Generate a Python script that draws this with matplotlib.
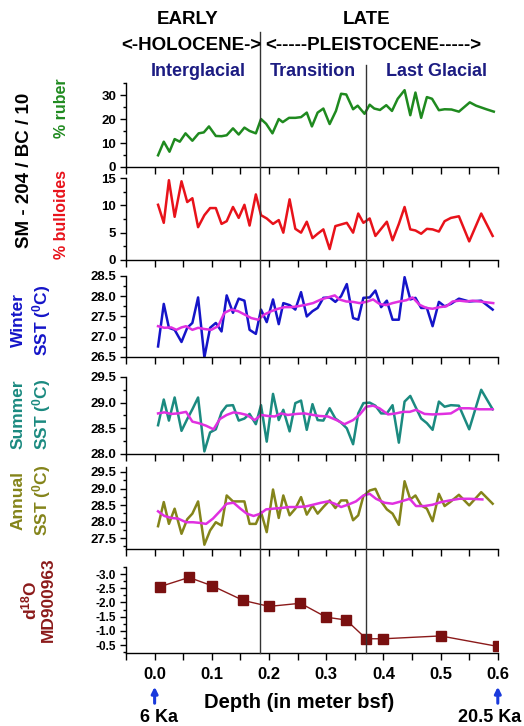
import matplotlib
matplotlib.use('Agg')
import matplotlib.pyplot as plt
from matplotlib.lines import Line2D
from matplotlib.ticker import MultipleLocator, FormatStrFormatter

plt.rcParams['font.family'] = ['Liberation Sans', 'DejaVu Sans']
plt.rcParams['font.weight'] = 'bold'
plt.rcParams['axes.labelweight'] = 'bold'
plt.rcParams['mathtext.fontset'] = 'custom'
plt.rcParams['mathtext.rm'] = 'Liberation Sans:bold'
plt.rcParams['mathtext.bf'] = 'Liberation Sans:bold'
plt.rcParams['mathtext.default'] = 'rm'

# 1. Data
depth_ruber = [0.006, 0.016, 0.026, 0.035, 0.044, 0.054, 0.066, 0.077, 0.086, 0.095,
               0.107, 0.117, 0.126, 0.137, 0.147, 0.157, 0.166, 0.177, 0.186, 0.195,
               0.206, 0.217, 0.224, 0.235, 0.246, 0.256, 0.266, 0.275, 0.285, 0.295,
               0.306, 0.317, 0.326, 0.335, 0.347, 0.355, 0.367, 0.376, 0.384, 0.394,
               0.405, 0.415, 0.425, 0.437, 0.447, 0.456, 0.466, 0.476, 0.485, 0.497,
               0.507, 0.519, 0.532, 0.551, 0.562, 0.580, 0.593]
ruber = [4.9, 10.6, 6.4, 11.7, 10.6, 14.1, 11.0, 14.1, 14.5, 17.0,
         13.0, 12.9, 13.3, 16.2, 13.6, 16.5, 15.1, 14.1, 20.1, 18.1,
         14.1, 20.1, 18.8, 20.6, 20.6, 20.9, 22.8, 17.0, 22.8, 24.5,
         18.0, 23.5, 30.7, 30.4, 24.2, 25.7, 22.3, 26.1, 24.5, 23.9,
         25.9, 23.5, 28.6, 32.2, 21.7, 31.2, 20.6, 29.3, 28.6, 23.8,
         24.2, 24.1, 23.2, 27.1, 25.7, 24.2, 23.2]

depth = [0.006, 0.016, 0.025, 0.035, 0.047, 0.057, 0.066, 0.076, 0.087, 0.097,
         0.107, 0.117, 0.126, 0.137, 0.147, 0.157, 0.166, 0.177, 0.186, 0.196,
         0.207, 0.217, 0.225, 0.236, 0.246, 0.256, 0.266, 0.276, 0.285, 0.295,
         0.306, 0.316, 0.326, 0.336, 0.347, 0.356, 0.365, 0.376, 0.386, 0.396,
         0.406, 0.416, 0.427, 0.437, 0.447, 0.456, 0.466, 0.476, 0.486, 0.497,
         0.507, 0.518, 0.532, 0.550, 0.571, 0.591]
bulloides = [10.1, 6.8, 14.6, 7.9, 14.4, 10.6, 11.3, 6.0, 8.2, 9.5,
             9.5, 6.6, 7.1, 9.7, 7.7, 10.1, 6.3, 12.0, 8.2, 7.6,
             6.6, 7.3, 5.0, 11.1, 5.7, 5.0, 7.0, 4.0, 4.8, 5.6,
             2.0, 6.2, 6.5, 6.8, 5.0, 8.5, 6.8, 7.6, 4.4, 5.7,
             7.0, 3.6, 6.6, 9.7, 5.6, 5.4, 4.8, 5.7, 5.6, 5.2,
             7.1, 7.7, 8.0, 3.4, 8.5, 4.4]
winter = [26.76, 27.81, 27.22, 27.17, 26.87, 27.22, 27.34, 27.97, 26.49, 27.22,
          27.34, 27.13, 28.02, 27.59, 27.94, 27.89, 27.17, 27.07, 27.67, 27.36,
          27.92, 27.31, 27.83, 27.78, 27.67, 28.10, 27.50, 27.63, 27.71, 27.96,
          27.97, 27.86, 28.00, 28.30, 27.46, 27.42, 27.96, 27.97, 28.14, 27.73,
          27.89, 27.42, 27.42, 28.47, 27.92, 27.96, 27.71, 27.71, 27.26, 27.86,
          27.75, 27.81, 27.94, 27.87, 27.89, 27.67]
summer = [28.56, 29.06, 28.65, 29.10, 28.45, 28.68, 28.87, 29.10, 28.05, 28.42,
          28.48, 28.81, 28.94, 28.95, 28.65, 28.69, 28.78, 28.58, 28.95, 28.24,
          29.17, 28.66, 28.86, 28.44, 28.99, 29.04, 28.47, 28.97, 28.66, 28.65,
          28.89, 28.69, 28.61, 28.50, 28.19, 28.79, 28.99, 29.00, 28.94, 28.79,
          28.79, 28.95, 28.22, 29.02, 29.13, 28.92, 28.69, 28.60, 28.47, 29.02,
          28.92, 28.95, 28.94, 28.48, 29.25, 28.87]
annual = [27.86, 28.59, 27.93, 28.39, 27.63, 28.07, 28.24, 28.61, 27.30, 27.73,
          27.98, 27.88, 28.79, 28.61, 28.61, 28.61, 27.93, 27.93, 28.29, 27.68,
          28.97, 28.11, 28.79, 28.19, 28.39, 28.74, 28.21, 28.49, 28.24, 28.44,
          28.64, 28.41, 28.64, 28.64, 28.04, 28.19, 28.77, 28.94, 28.99, 28.61,
          28.37, 28.24, 27.90, 29.22, 28.67, 28.79, 28.49, 28.39, 28.01, 28.84,
          28.47, 28.61, 28.81, 28.49, 28.89, 28.54]

depth_w_sm = [0.006, 0.017, 0.029, 0.038, 0.047, 0.055, 0.066, 0.076, 0.087, 0.099,
              0.111, 0.122, 0.134, 0.146, 0.157, 0.169, 0.181, 0.192, 0.204, 0.216,
              0.227, 0.239, 0.250, 0.265, 0.277, 0.291, 0.303, 0.315, 0.323, 0.335,
              0.347, 0.358, 0.370, 0.382, 0.393, 0.405, 0.416, 0.428, 0.440, 0.451,
              0.463, 0.475, 0.486, 0.498, 0.510, 0.521, 0.533, 0.545, 0.556, 0.568,
              0.580, 0.592]
winter_sm = [27.26, 27.22, 27.23, 27.17, 27.23, 27.26, 27.17, 27.22, 27.19, 27.17,
             27.26, 27.59, 27.67, 27.63, 27.55, 27.46, 27.42, 27.55, 27.63, 27.69,
             27.73, 27.73, 27.75, 27.79, 27.83, 27.92, 27.97, 28.02, 27.92, 27.87,
             27.86, 27.83, 27.86, 27.92, 27.81, 27.78, 27.83, 27.87, 27.90, 27.97,
             27.79, 27.71, 27.69, 27.73, 27.75, 27.87, 27.89, 27.87, 27.89, 27.87,
             27.85, 27.83]

depth_s_sm = [0.006, 0.017, 0.029, 0.041, 0.055, 0.066, 0.077, 0.090, 0.103, 0.114,
              0.126, 0.138, 0.150, 0.161, 0.175, 0.186, 0.198, 0.210, 0.221, 0.233,
              0.248, 0.262, 0.277, 0.288, 0.303, 0.318, 0.332, 0.347, 0.358, 0.370,
              0.382, 0.393, 0.408, 0.422, 0.434, 0.446, 0.457, 0.472, 0.486, 0.504,
              0.518, 0.533, 0.550, 0.568, 0.591]
summer_sm = [28.79, 28.81, 28.78, 28.79, 28.82, 28.63, 28.60, 28.55, 28.48, 28.68,
             28.76, 28.81, 28.79, 28.76, 28.66, 28.76, 28.74, 28.73, 28.79, 28.76,
             28.78, 28.79, 28.76, 28.74, 28.73, 28.66, 28.58, 28.66, 28.76, 28.92,
             28.94, 28.89, 28.77, 28.79, 28.82, 28.82, 28.86, 28.78, 28.77, 28.78,
             28.79, 28.89, 28.89, 28.87, 28.87]

depth_a_sm = [0.006, 0.017, 0.029, 0.041, 0.055, 0.067, 0.079, 0.090, 0.102, 0.114,
              0.126, 0.138, 0.150, 0.161, 0.173, 0.185, 0.195, 0.207, 0.221, 0.236,
              0.250, 0.265, 0.277, 0.291, 0.303, 0.315, 0.326, 0.338, 0.352, 0.365,
              0.376, 0.387, 0.402, 0.416, 0.431, 0.446, 0.457, 0.472, 0.486, 0.501,
              0.516, 0.533, 0.550, 0.573]
annual_sm = [28.31, 28.17, 28.11, 28.09, 27.98, 27.98, 27.96, 27.93, 28.09, 28.31,
             28.54, 28.57, 28.39, 28.24, 28.17, 28.24, 28.37, 28.39, 28.41, 28.44,
             28.44, 28.46, 28.51, 28.57, 28.61, 28.54, 28.44, 28.51, 28.61, 28.79,
             28.84, 28.69, 28.57, 28.54, 28.61, 28.69, 28.47, 28.47, 28.51, 28.59,
             28.64, 28.69, 28.69, 28.67]

depth_d18o = [0.01, 0.06, 0.10, 0.155, 0.20, 0.255, 0.30, 0.335, 0.37, 0.40, 0.50, 0.60]
d18o = [-2.56, -2.88, -2.59, -2.07, -1.86, -1.97, -1.48, -1.38, -0.72, -0.72, -0.82, -0.45]

boundaries = [0.185, 0.37]

# 2. Figure and panels (positions in figure fraction)
fig = plt.figure(figsize=(5.24, 7.26), dpi=100)
left, width = 0.2405, 0.7095
panels = [(0.7700, 0.1150), (0.6419, 0.1129), (0.5083, 0.1116),
          (0.3747, 0.1061), (0.2438, 0.1129), (0.1006, 0.1185)]
axes = [fig.add_axes([left, b, width, h]) for b, h in panels]

lw = 1.8
axes[0].plot(depth_ruber, ruber, color='#1f8a1f', lw=lw)
axes[1].plot(depth, bulloides, color='#e8121a', lw=lw)
axes[2].plot(depth, winter, color='#1414c8', lw=lw)
axes[2].plot(depth_w_sm, winter_sm, color='#e030e0', lw=lw)
axes[3].plot(depth, summer, color='#1b8a80', lw=lw)
axes[3].plot(depth_s_sm, summer_sm, color='#e030e0', lw=lw)
axes[4].plot(depth, annual, color='#84841a', lw=lw)
axes[4].plot(depth_a_sm, annual_sm, color='#e030e0', lw=lw)
axes[5].plot(depth_d18o, d18o, color='#8b1a1a', lw=1.0, marker='s',
             markersize=6.5, markerfacecolor='#7a1010', markeredgecolor='#7a1010')

ylims = [(0, 35), (0, 15), (26.5, 28.5), (28.0, 29.5), (27.17, 29.65), (-0.22, -3.25)]
ymaj = [10, 5, 0.5, 0.5, 0.5, 0.5]
ymin = [5, 2.5, 0.25, 0.25, 0.25, 0.25]
yfmt = ['%d', '%d', '%.1f', '%.1f', '%.1f', '%.1f']
ysize = [9.5, 9.5, 9.5, 9.5, 9.5, 8.5]

for ax, yl, ma, mi, fmt, fs in zip(axes, ylims, ymaj, ymin, yfmt, ysize):
    ax.set_xlim(-0.05, 0.6)
    ax.set_ylim(*yl)
    ax.patch.set_alpha(0)
    for s in ('top', 'right'):
        ax.spines[s].set_visible(False)
    for s in ('left', 'bottom'):
        ax.spines[s].set_linewidth(1.0)
    ax.xaxis.set_major_locator(MultipleLocator(0.1))
    ax.xaxis.set_minor_locator(MultipleLocator(0.05))
    ax.yaxis.set_major_locator(MultipleLocator(ma))
    ax.yaxis.set_minor_locator(MultipleLocator(mi))
    ax.yaxis.set_major_formatter(FormatStrFormatter(fmt))
    ax.tick_params(axis='x', which='both', direction='out', length=5, width=1.0)
    ax.tick_params(axis='y', which='major', direction='out', length=4, width=1.0,
                   labelsize=fs, pad=3)
    ax.tick_params(axis='y', which='minor', direction='out', length=2.5, width=1.0)
    if ax is not axes[-1]:
        ax.tick_params(axis='x', labelbottom=False)

axes[-1].set_xticks([0.0, 0.1, 0.2, 0.3, 0.4, 0.5, 0.6])
axes[-1].xaxis.set_major_formatter(FormatStrFormatter('%.1f'))
axes[-1].tick_params(axis='x', labelsize=12, pad=5)
axes[-1].set_xlabel('Depth (in meter bsf)', fontsize=14.5, fontweight='bold')
axes[-1].xaxis.set_label_coords(299 / 524, 1 - 703 / 726, transform=fig.transFigure)
axes[-1].xaxis.label.set_va('center')

# 3. Period boundaries across all panels
inv = fig.transFigure.inverted()
y_bottom = panels[-1][0]
for b, y_top in zip(boundaries, [1 - 32 / 726, 1 - 65 / 726]):
    xf = inv.transform(axes[-1].transData.transform((b, 0)))[0]
    fig.add_artist(Line2D([xf, xf], [y_bottom, y_top], transform=fig.transFigure,
                          color='#333333', lw=1.0))

# 4. Headers
fig.text(188 / 524, 1 - 20 / 726, 'EARLY', ha='center', va='center', fontsize=13.5)
fig.text(191 / 524, 1 - 46 / 726, '<-HOLOCENE->', ha='center', va='center',
         fontsize=13.5)
fig.text(367 / 524, 1 - 20 / 726, 'LATE', ha='center', va='center', fontsize=13.5)
fig.text(373 / 524, 1 - 46 / 726, '<-----PLEISTOCENE----->', ha='center', va='center',
         fontsize=13.5)
navy = '#1c1c82'
fig.text(198 / 524, 1 - 71 / 726, 'Interglacial', ha='center', va='center',
         fontsize=13, color=navy)
fig.text(313 / 524, 1 - 71 / 726, 'Transition', ha='center', va='center',
         fontsize=13, color=navy)
fig.text(437 / 524, 1 - 71 / 726, 'Last Glacial', ha='center', va='center',
         fontsize=13, color=navy)

# 5. Y labels
fig.text(25 / 524, 1 - 170 / 726, 'SM - 204 / BC / 10', rotation=90, ha='center',
         va='center', fontsize=13.5)
fig.text(62 / 524, 1 - 108 / 726, '% ruber', rotation=90, ha='center', va='center',
         fontsize=11.5, color='#1f8a1f')
fig.text(62 / 524, 1 - 215 / 726, '% bulloides', rotation=90, ha='center', va='center',
         fontsize=11.5, color='#e8121a')
fig.text(32 / 524, 1 - 320 / 726, 'Winter\nSST ($^0$C)', rotation=90, ha='center',
         va='center', fontsize=12.5, color='#1414c8', linespacing=1.25)
fig.text(32 / 524, 1 - 414 / 726, 'Summer\nSST ($^0$C)', rotation=90, ha='center',
         va='center', fontsize=12.5, color='#1b8a80', linespacing=1.25)
fig.text(32 / 524, 1 - 500 / 726, 'Annual\nSST ($^0$C)', rotation=90, ha='center',
         va='center', fontsize=12.5, color='#84841a', linespacing=1.25)
fig.text(38 / 524, 1 - 600 / 726, 'd$^{18}$O\nMD900963', rotation=90, ha='center',
         va='center', fontsize=12.5, color='#8b1a1a', linespacing=1.15)

# 6. Age arrows
for x, lab in [(0.0, '6 Ka'), (0.6, '20.5 Ka')]:
    axes[-1].annotate('', xy=(x, 1 - 684 / 726), xycoords=('data', 'figure fraction'),
                      xytext=(x, 1 - 706 / 726), textcoords=('data', 'figure fraction'),
                      arrowprops=dict(arrowstyle='-|>', color='#1a3adc', lw=2.2,
                                      mutation_scale=9))
fig.text(159 / 524, 1 - 718 / 726, '6 Ka', ha='center', va='center', fontsize=13)
fig.text(490 / 524, 1 - 718 / 726, '20.5 Ka', ha='center', va='center', fontsize=13)

fig.savefig('out.png', dpi=100)
